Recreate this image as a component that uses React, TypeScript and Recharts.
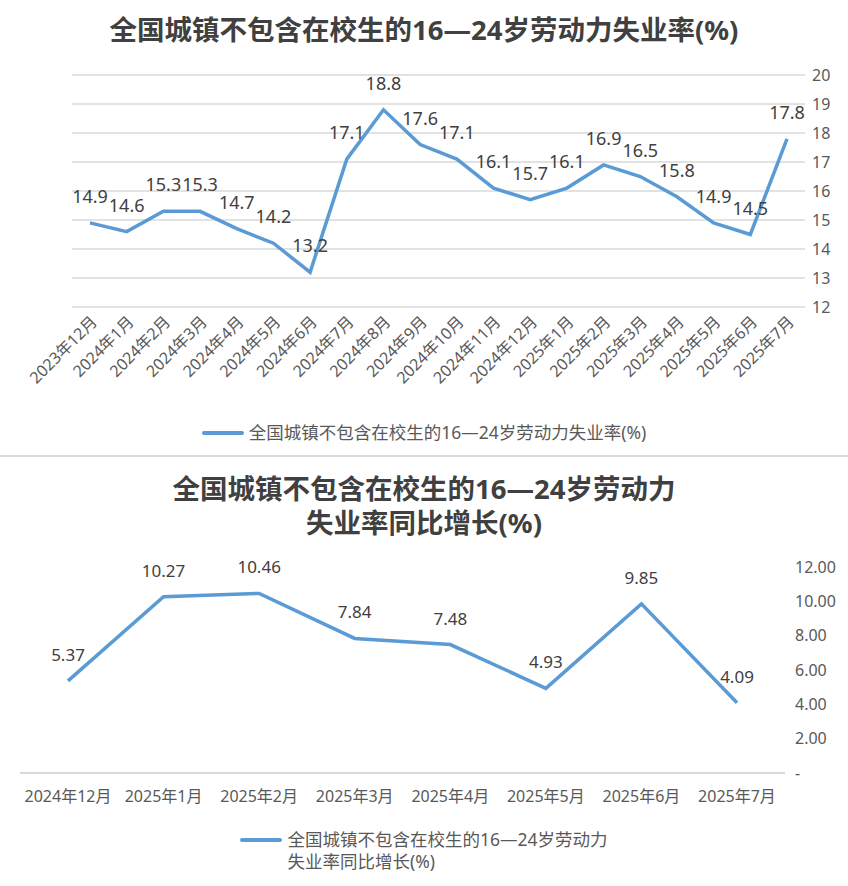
import React from "react"
import { LineChart, Line, XAxis, YAxis, CartesianGrid, Legend, LabelList } from "recharts"

// 16-24岁劳动力失业率(%), monthly
const rateMonths = [
  "2023年12月", "2024年1月", "2024年2月", "2024年3月", "2024年4月", "2024年5月", "2024年6月",
  "2024年7月", "2024年8月", "2024年9月", "2024年10月", "2024年11月", "2024年12月", "2025年1月",
  "2025年2月", "2025年3月", "2025年4月", "2025年5月", "2025年6月", "2025年7月",
]
const rateValues = [14.9, 14.6, 15.3, 15.3, 14.7, 14.2, 13.2, 17.1, 18.8, 17.6, 17.1, 16.1, 15.7, 16.1, 16.9, 16.5, 15.8, 14.9, 14.5, 17.8]
const rateTicks = [12, 13, 14, 15, 16, 17, 18, 19, 20]

// 同比增长(%)
const yoyMonths = ["2024年12月", "2025年1月", "2025年2月", "2025年3月", "2025年4月", "2025年5月", "2025年6月", "2025年7月"]
const yoyValues = [5.37, 10.27, 10.46, 7.84, 7.48, 4.93, 9.85, 4.09]
const yoyTicks = [0, 2, 4, 6, 8, 10, 12]

const rateData = rateMonths.map((month, i) => ({ month, rate: rateValues[i] }))
const yoyData = yoyMonths.map((month, i) => ({ month, yoy: yoyValues[i] }))

const FONT = '"Noto Sans", "Noto Sans CJK SC", sans-serif'
const BLUE = "#5b9bd5"
const GRID = "#d9d9d9"
const TEXT = "#404040"
const AXIS_TEXT = "#595959"

function LegendItem({ lines, pad }: { lines: string[]; pad: number }) {
  return (
    <div style={{ display: "flex", justifyContent: "center", paddingTop: pad, fontFamily: FONT, fontSize: 17.5, color: AXIS_TEXT }}>
      <div style={{ display: "flex", alignItems: "flex-start" }}>
        <div style={{ width: 42, height: 4, background: BLUE, borderRadius: 2, marginTop: 10, marginRight: 5 }} />
        <div style={{ lineHeight: "22px", textAlign: "left", whiteSpace: "nowrap" }}>
          {lines.map((l) => (
            <div key={l}>{l}</div>
          ))}
        </div>
      </div>
    </div>
  )
}

const titleStyle: React.CSSProperties = {
  position: "absolute",
  left: 0,
  width: 848,
  textAlign: "center",
  fontFamily: FONT,
  fontWeight: "bold",
  fontSize: 27.5,
  color: TEXT,
  lineHeight: "34px",
}

export default function App() {
  return (
    <div style={{ position: "absolute", left: 0, top: 0, width: 848, height: 886, background: "#fff", fontFamily: FONT }}>
      <div style={{ ...titleStyle, top: 13 }}>全国城镇不包含在校生的16—24岁劳动力失业率(%)</div>

      <div style={{ position: "absolute", left: 0, top: 0 }}>
        <LineChart width={848} height={457} data={rateData} margin={{ top: 75, right: 0, left: 72, bottom: 5 }}>
          <CartesianGrid vertical={false} stroke={GRID} strokeWidth={1.5} />
          <XAxis
            dataKey="month"
            interval={0}
            padding={{ left: 18, right: 18 }}
            axisLine={false}
            tickLine={false}
            height={105}
            angle={-45}
            textAnchor="end"
            tick={{ fill: AXIS_TEXT, fontSize: 16, fontFamily: FONT }}
          />
          <YAxis
            orientation="right"
            domain={[12, 20]}
            ticks={rateTicks}
            axisLine={false}
            tickLine={false}
            width={43}
            tickMargin={1}
            tick={{ fill: AXIS_TEXT, fontSize: 16, fontFamily: FONT }}
          />
          <Legend
            verticalAlign="bottom"
            height={40}
            wrapperStyle={{ left: 0, width: 848 }}
            content={() => <LegendItem pad={9} lines={["全国城镇不包含在校生的16—24岁劳动力失业率(%)"]} />}
          />
          <Line
            type="linear"
            dataKey="rate"
            stroke={BLUE}
            strokeWidth={3.5}
            dot={false}
            isAnimationActive={false}
          >
            <LabelList dataKey="rate" position="top" offset={20} fill={TEXT} fontSize={18} fontFamily={FONT} />
          </Line>
        </LineChart>
      </div>

      <div style={{ position: "absolute", left: 0, top: 455, width: 848, height: 2, background: GRID }} />

      <div style={{ ...titleStyle, top: 472 }}>
        全国城镇不包含在校生的16—24岁劳动力
        <br />
        失业率同比增长(%)
      </div>

      <div style={{ position: "absolute", left: 0, top: 457 }}>
        <LineChart width={848} height={429} data={yoyData} margin={{ top: 110, right: 0, left: 20, bottom: 8 }}>
          <XAxis
            dataKey="month"
            interval={0}
            padding={{ left: 48, right: 48 }}
            axisLine={{ stroke: GRID, strokeWidth: 2 }}
            tickLine={false}
            height={50}
            tickMargin={12}
            tick={{ fill: AXIS_TEXT, fontSize: 16, fontFamily: FONT }}
          />
          <YAxis
            orientation="right"
            domain={[0, 12]}
            ticks={yoyTicks}
            axisLine={false}
            tickLine={false}
            width={63}
            tickMargin={4}
            tickFormatter={(v: number) => (v === 0 ? "-" : v.toFixed(2))}
            tick={{ fill: AXIS_TEXT, fontSize: 16, fontFamily: FONT }}
          />
          <Legend
            verticalAlign="bottom"
            height={55}
            wrapperStyle={{ left: 0, width: 848 }}
            content={() => <LegendItem pad={5} lines={["全国城镇不包含在校生的16—24岁劳动力", "失业率同比增长(%)"]} />}
          />
          <Line type="linear" dataKey="yoy" stroke={BLUE} strokeWidth={3.5} dot={false} isAnimationActive={false}>
            <LabelList
              dataKey="yoy"
              position="top"
              offset={20}
              fill={TEXT}
              fontSize={17}
              fontFamily={FONT}
              formatter={(v: any) => Number(v).toFixed(2)}
            />
          </Line>
        </LineChart>
      </div>
    </div>
  )
}
